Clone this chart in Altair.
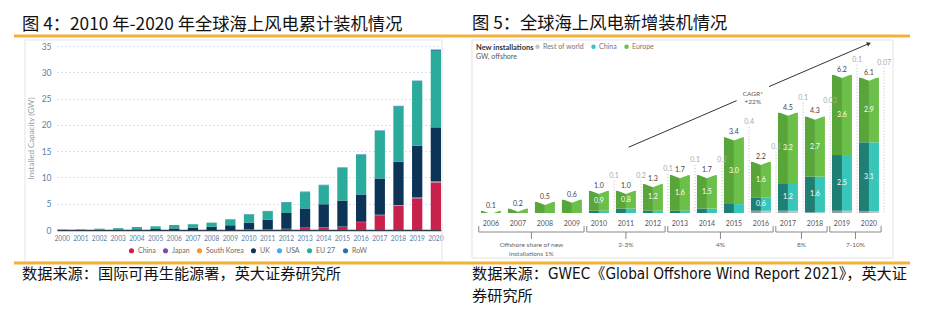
import altair as alt
import pandas as pd

# ---------------- Figure 4: cumulative offshore wind capacity (GW) ----------------
years4 = [str(y) for y in range(2000, 2021)]
series4 = ["China", "Japan", "South Korea", "UK", "USA", "EU 27", "RoW"]
colors4 = ["#c8214c", "#7b4fa6", "#f5923a", "#0c3457", "#3eaee3", "#2aab9b", "#2472b3"]
china4 = [0, 0, 0, 0, 0, 0, 0, 0, 0, 0, 0.1, 0.15, 0.2, 0.4, 0.45, 0.6, 1.5, 2.8, 4.6, 6.0, 9.0]
japan4 = [0, 0, 0, 0, 0, 0, 0, 0, 0, 0, 0.02, 0.03, 0.03, 0.05, 0.05, 0.05, 0.06, 0.06, 0.07, 0.08, 0.09]
korea4 = [0, 0, 0, 0, 0, 0, 0, 0, 0, 0, 0, 0, 0, 0, 0, 0, 0, 0.04, 0.07, 0.1, 0.14]
uk4 = [0.03, 0.04, 0.05, 0.1, 0.12, 0.2, 0.3, 0.4, 0.6, 0.9, 1.3, 1.8, 3.0, 3.65, 4.4, 4.95, 5.2, 6.9, 8.2, 9.8, 10.3]
usa4 = [0, 0, 0, 0, 0, 0, 0, 0, 0, 0, 0, 0, 0, 0, 0, 0, 0.03, 0.03, 0.03, 0.03, 0.04]
eu4 = [0.04, 0.05, 0.2, 0.25, 0.45, 0.5, 0.65, 0.7, 0.8, 1.1, 1.55, 1.6, 2.0, 3.1, 3.6, 6.2, 7.5, 9.0, 10.5, 12.2, 14.5]
row4 = [0, 0, 0, 0, 0, 0, 0, 0, 0, 0.05, 0.05, 0.05, 0.1, 0.1, 0.1, 0.1, 0.1, 0.1, 0.15, 0.2, 0.25]

title4 = "图 4：2010 年-2020 年全球海上风电累计装机情况"
source4 = "数据来源：国际可再生能源署，英大证券研究所"

# ---------------- Figure 5: new offshore installations (GW) ----------------
years5 = list(range(2006, 2021))
series5 = ["Rest of world", "China", "Europe"]
light5 = ["#c4c4c4", "#38c6ba", "#6cc04a"]
dark5 = ["#9c9c9c", "#1f7f75", "#58a53a"]
europe5 = [0.1, 0.2, 0.5, 0.6, 0.9, 0.8, 1.2, 1.6, 1.5, 3.0, 1.6, 3.2, 2.7, 3.6, 2.9]
china5 = [0, 0, 0, 0, 0.1, 0.2, 0.1, 0.1, 0.2, 0.4, 0.6, 1.2, 1.6, 2.5, 3.1]
row5 = [0, 0, 0, 0, 0, 0, 0, 0, 0, 0, 0.1, 0.1, 0.03, 0.1, 0.07]
total5 = ["0.1", "0.2", "0.5", "0.6", "1.0", "1.0", "1.3", "1.7", "1.7", "3.4", "2.2", "4.5", "4.3", "6.2", "6.1"]
side5 = ["", "", "", "", "0.1", "0.2", "0.1", "0.1", "0.2", "0.4", "0.1", "0.1", "0.03", "0.1", "0.07"]
share_start = [2006, 2010, 2013, 2017, 2019]
share_end = [2009, 2012, 2016, 2018, 2020]
share_label = ["Offshore share of new\ninstallations 1%", "2-3%", "4%", "8%", "7-10%"]
arrow_x0 = [2011.1, 2016.3]
arrow_x1 = [2015.1, 2020.0]
arrow_y0 = [2.95, 5.67]
arrow_y1 = [5.04, 7.6]
cagr_x = [2015.7]
cagr_y = [5.35]
cagr_text = ["CAGR*\n+22%"]

title5 = "图 5：全球海上风电新增装机情况"
source5a = "数据来源：GWEC《Global Offshore Wind Report 2021》，英大证"
source5b = "券研究所"

CJK = "Noto Sans CJK SC"
SRC_FONT = "Liberation Sans Narrow, DejaVu Sans Condensed, Noto Sans CJK SC"
LAT = "Lato"
ORANGE = "#f2b13a"

# ---------------- tables ----------------
rows4 = []
arrs4 = [china4, japan4, korea4, uk4, usa4, eu4, row4]
for i, y in enumerate(years4):
    for k, name in enumerate(series4):
        rows4.append({"year": y, "series": name, "value": arrs4[k][i], "order": k})
df4 = pd.DataFrame(rows4)

rows5 = []
arrs5 = [row5, china5, europe5]
for i, y in enumerate(years5):
    for k, name in enumerate(series5):
        v = arrs5[k][i]
        lab = f"{v:.1f}" if (y >= 2010 and v >= 0.5 and k > 0) else ""
        rows5.append({"year": y, "series": name, "value": v, "order": k,
                      "dark": dark5[k], "inlabel": lab,
                      "tlabel": total5[i], "side": side5[i], "ylab": str(y)})
df5 = pd.DataFrame(rows5)

brk = pd.DataFrame({"start": share_start, "end": share_end, "label": share_label})
arrow = pd.DataFrame({"x0": arrow_x0, "x1": arrow_x1, "y0": arrow_y0, "y1": arrow_y1})
head = pd.DataFrame({"x": [arrow_x1[-1]], "y": [arrow_y1[-1]]})
cagr = pd.DataFrame({"x": cagr_x, "y": cagr_y, "t": cagr_text})
one = pd.DataFrame({"a": [0]})

# ---------------- left panel ----------------
W4, H4 = 384, 184

bg = alt.Chart(one).mark_rect(fill="white", opacity=0).encode(
    x=alt.value(-57), x2=alt.value(875), y=alt.value(-46), y2=alt.value(284))
frame4 = alt.Chart(one).mark_rect(fillOpacity=0, stroke="#e3e3e3", strokeWidth=1).encode(
    x=alt.value(-32), x2=alt.value(385), y=alt.value(-6), y2=alt.value(216))
oline_top = alt.Chart(one).mark_rule(color=ORANGE, strokeWidth=3).encode(
    x=alt.value(-43), x2=alt.value(853), y=alt.value(-10))
oline_bot = alt.Chart(one).mark_rule(color=ORANGE, strokeWidth=3).encode(
    x=alt.value(-43), x2=alt.value(853), y=alt.value(217))
t4 = alt.Chart(one).mark_text(align="left", baseline="alphabetic", font=CJK, fontSize=17.3, color="#111").encode(
    x=alt.value(-35), y=alt.value(-16), text=alt.value(title4))
s4 = alt.Chart(one).mark_text(align="left", baseline="middle", font=CJK, fontSize=15.2, color="#111").encode(
    x=alt.value(-35), y=alt.value(228), text=alt.value(source4))

bars4 = alt.Chart(df4).mark_bar().encode(
    x=alt.X("year:O", sort=years4,
            scale=alt.Scale(paddingInner=0.45, paddingOuter=0),
            axis=alt.Axis(labelAngle=0, labelFontSize=6.6, labelColor="#5b80a8", labelFont=LAT,
                          domainColor="#2b3b4b", domainWidth=1.5, ticks=False, labelPadding=5,
                          title=None, grid=False)),
    y=alt.Y("value:Q", stack="zero", scale=alt.Scale(domain=[0, 35], nice=False),
            axis=alt.Axis(values=[0, 5, 10, 15, 20, 25, 30, 35], grid=True, gridDash=[1, 3],
                          gridColor="#a9c8e4", domain=False, ticks=False, labelPadding=6,
                          labelFontSize=8.5, labelColor="#5b80a8", labelFont=LAT,
                          title="Installed Capacity (GW)", titleFontSize=8, titleColor="#9a9a9a",
                          titleFontWeight="normal", titleFont=LAT, titlePadding=6)),
    color=alt.Color("series:N", scale=alt.Scale(domain=series4, range=colors4),
                    legend=alt.Legend(orient="none", legendX=71, legendY=201, direction="horizontal",
                                      title=None, symbolType="circle", symbolSize=26,
                                      labelFontSize=7, labelColor="#6a6a6a", labelFont=LAT,
                                      columnPadding=6, labelOffset=3, symbolStrokeWidth=0)),
    order=alt.Order("order:Q", sort="ascending"),
)

left = alt.layer(bg, frame4, oline_top, oline_bot, t4, s4, bars4).properties(width=W4, height=H4)

# ---------------- right panel ----------------
W5, H5 = 421, 167
xs5 = alt.Scale(domain=[2005.3, 2020.89], nice=False, zero=False)
ys5 = alt.Scale(domain=[0, 7.49], nice=False)

frame5 = alt.Chart(one).mark_rect(fillOpacity=0, stroke="#e3e3e3", strokeWidth=1).encode(
    x=alt.value(0), x2=alt.value(421), y=alt.value(-6), y2=alt.value(212))
t5 = alt.Chart(one).mark_text(align="left", baseline="alphabetic", font=CJK, fontSize=17.3, color="#111").encode(
    x=alt.value(0), y=alt.value(-17), text=alt.value(title5))
s5a = alt.Chart(one).mark_text(align="left", baseline="middle", font=SRC_FONT, fontSize=15.2, color="#111").encode(
    x=alt.value(0), y=alt.value(228), text=alt.value(source5a))
s5b = alt.Chart(one).mark_text(align="left", baseline="middle", font=CJK, fontSize=15.2, color="#111").encode(
    x=alt.value(0), y=alt.value(250), text=alt.value(source5b))
hdr1 = alt.Chart(one).mark_text(align="left", baseline="middle", font=LAT, fontSize=7.5, fontWeight="bold", color="#333").encode(
    x=alt.value(4), y=alt.value(2), text=alt.value("New installations"))
hdr2 = alt.Chart(one).mark_text(align="left", baseline="middle", font=LAT, fontSize=7, color="#555").encode(
    x=alt.value(4), y=alt.value(11), text=alt.value("GW, offshore"))

stacked = alt.Chart(df5).transform_stack(
    stack="value", groupby=["year"], sort=[alt.SortField("order", "ascending")], as_=["y0", "y1"]
).transform_calculate(xl="datum.year - 0.37", xr="datum.year + 0.37", ym="(datum.y0 + datum.y1) / 2")

face_l = stacked.mark_rect().encode(
    x=alt.X("xl:Q", scale=xs5, axis=None), x2="year:Q",
    y=alt.Y("y0:Q", scale=ys5, axis=None), y2="y1:Q",
    fill=alt.Fill("dark:N", scale=None),
)
face_r = stacked.mark_rect().encode(
    x=alt.X("year:Q", scale=xs5, axis=None), x2="xr:Q",
    y=alt.Y("y0:Q", scale=ys5, axis=None), y2="y1:Q",
    color=alt.Color("series:N", scale=alt.Scale(domain=series5, range=light5),
                    legend=alt.Legend(orient="none", legendX=62, legendY=-3, direction="horizontal",
                                      title=None, symbolType="circle", symbolSize=20,
                                      labelFontSize=7, labelColor="#777", labelFont=LAT,
                                      columnPadding=6, labelOffset=2, symbolStrokeWidth=0)),
)
inlab = stacked.transform_filter("datum.inlabel != ''").mark_text(
    font=LAT, fontSize=7, color="white", baseline="middle").encode(
    x=alt.X("year:Q", scale=xs5, axis=None), y=alt.Y("ym:Q", scale=ys5, axis=None), text="inlabel:N")

tops = stacked.transform_joinaggregate(tot="sum(value)", groupby=["year"]).transform_filter(
    "datum.order == 2").transform_calculate(xs="datum.year + 0.56", ys="datum.tot + 0.45")
notch = tops.mark_point(shape="M -1.05 -0.08 L 1.05 -0.08 L 0 0.32 Z", filled=True, fill="white",
                        strokeWidth=0, size=400, opacity=1).encode(
    x=alt.X("year:Q", scale=xs5, axis=None), y=alt.Y("tot:Q", scale=ys5, axis=None))
toplab = tops.mark_text(font=LAT, fontSize=7, color="#444", baseline="bottom", dy=-2).encode(
    x=alt.X("year:Q", scale=xs5, axis=None), y=alt.Y("tot:Q", scale=ys5, axis=None), text="tlabel:N")
yearlab = tops.mark_text(font=LAT, fontSize=7, color="#555", baseline="middle").encode(
    x=alt.X("year:Q", scale=xs5, axis=None), y=alt.value(H5 + 11), text="ylab:N")
siderule = tops.transform_filter("datum.side != ''").mark_rule(
    color="#bdbdbd", strokeDash=[1, 2], strokeWidth=1).encode(
    x=alt.X("xs:Q", scale=xs5, axis=None), y=alt.Y("ys:Q", scale=ys5, axis=None), y2=alt.datum(0))
sidelab = tops.transform_filter("datum.side != ''").mark_text(
    font=LAT, fontSize=7, color="#a8a8a8", baseline="bottom", dy=-2).encode(
    x=alt.X("xs:Q", scale=xs5, axis=None), y=alt.Y("ys:Q", scale=ys5, axis=None), text="side:N")

arr = alt.Chart(arrow).mark_rule(color="#333", strokeWidth=1).encode(
    x=alt.X("x0:Q", scale=xs5, axis=None), x2="x1:Q",
    y=alt.Y("y0:Q", scale=ys5, axis=None), y2="y1:Q")
arrhead = alt.Chart(head).mark_point(shape="triangle-up", filled=True, color="#333", size=22,
                                     angle=66.7, opacity=1).encode(
    x=alt.X("x:Q", scale=xs5, axis=None), y=alt.Y("y:Q", scale=ys5, axis=None))
cagr_t = alt.Chart(cagr).mark_text(font=LAT, fontSize=6.5, color="#555", lineBreak="\n",
                                   baseline="middle").encode(
    x=alt.X("x:Q", scale=xs5, axis=None), y=alt.Y("y:Q", scale=ys5, axis=None), text="t:N")

bb = alt.Chart(brk).transform_calculate(
    bl="datum.start - 0.45", br="datum.end + 0.45", mid="(datum.start + datum.end) / 2")
b_h = bb.mark_rule(color="#888", strokeWidth=1).encode(
    x=alt.X("bl:Q", scale=xs5, axis=None), x2="br:Q", y=alt.value(186))
b_l = bb.mark_rule(color="#888", strokeWidth=1).encode(
    x=alt.X("bl:Q", scale=xs5, axis=None), y=alt.value(180), y2=alt.value(186))
b_r = bb.mark_rule(color="#888", strokeWidth=1).encode(
    x=alt.X("br:Q", scale=xs5, axis=None), y=alt.value(180), y2=alt.value(186))
b_c = bb.mark_rule(color="#888", strokeWidth=1).encode(
    x=alt.X("mid:Q", scale=xs5, axis=None), y=alt.value(186), y2=alt.value(193))
b_t = bb.mark_text(font=LAT, fontSize=6.5, color="#666", lineBreak="\n", baseline="top").encode(
    x=alt.X("mid:Q", scale=xs5, axis=None), y=alt.value(196), text="label:N")

right = alt.layer(frame5, t5, s5a, s5b, hdr1, hdr2, face_l, face_r, notch, inlab, toplab, yearlab,
                  siderule, sidelab, arr, arrhead, cagr_t, b_h, b_l, b_r, b_c, b_t
                  ).properties(width=W5, height=H5)

chart = alt.hconcat(left, right, spacing=31, bounds="flush", padding=0, background="white"
                    ).resolve_scale(color="independent").resolve_legend(color="independent"
                    ).configure_view(stroke=None)

chart.save("out.html", embed_options={"renderer": "svg", "actions": False})
